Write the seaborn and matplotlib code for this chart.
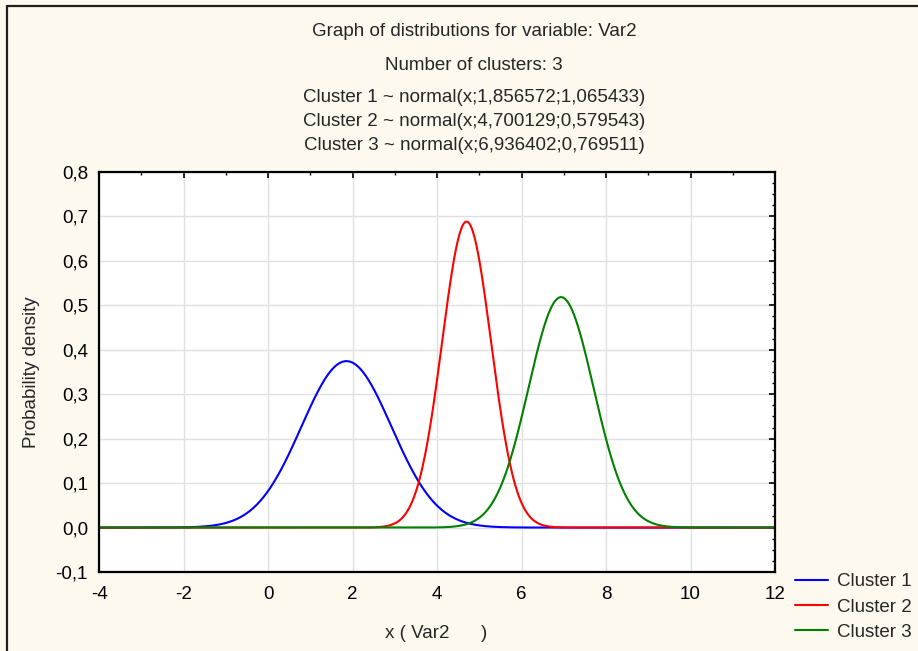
import numpy as np
import pandas as pd
import matplotlib
matplotlib.use("Agg")
import matplotlib.pyplot as plt
import matplotlib.ticker as mtick
from matplotlib.lines import Line2D
import seaborn as sns

# data (parameters shown in the chart title)
clusters = ["Cluster 1", "Cluster 2", "Cluster 3"]
means = [1.856572, 4.700129, 6.936402]
sds = [1.065433, 0.579543, 0.769511]
colors = ["#0000FF", "#FF0000", "#008000"]
x_grid = np.linspace(-4, 12, 801)

title_lines = [
    "Graph of distributions for variable: Var2",
    "Number of clusters: 3",
    "Cluster 1 ~ normal(x;1,856572;1,065433)",
    "Cluster 2 ~ normal(x;4,700129;0,579543)",
    "Cluster 3 ~ normal(x;6,936402;0,769511)",
]

rows = []
for name, m, s in zip(clusters, means, sds):
    dens = np.exp(-0.5 * ((x_grid - m) / s) ** 2) / (s * np.sqrt(2 * np.pi))
    rows.append(pd.DataFrame({"x": x_grid, "density": dens, "cluster": name}))
df = pd.concat(rows, ignore_index=True)

sns.set_style("white")
plt.rcParams["font.family"] = ["Liberation Sans", "DejaVu Sans"]
fs = 13.5

bg = "#FEF9EE"
fig = plt.figure(figsize=(9.18, 6.51), dpi=100, facecolor=bg)
ax = fig.add_axes([99 / 918, 1 - 572 / 651, 676 / 918, 400 / 651])
ax.set_facecolor("white")

sns.lineplot(data=df, x="x", y="density", hue="cluster", palette=colors,
             hue_order=clusters, ax=ax, linewidth=1.5, legend=False)

ax.set_xlim(-4, 12)
ax.set_ylim(-0.1, 0.8)
ax.set_xticks(np.arange(-4, 13, 2))
ax.set_yticks(np.arange(-0.1, 0.81, 0.1))
ax.xaxis.set_minor_locator(mtick.MultipleLocator(1))
ax.yaxis.set_minor_locator(mtick.MultipleLocator(0.025))
ax.xaxis.set_major_formatter(mtick.FuncFormatter(lambda v, p: f"{v:.0f}"))
ax.yaxis.set_major_formatter(mtick.FuncFormatter(lambda v, p: f"{v:.1f}".replace(".", ",").replace("-0,0", "0,0")))
ax.tick_params(which="both", direction="in", top=True, right=True, labelsize=fs, colors="black")
ax.tick_params(which="major", length=4, width=1.2)
ax.tick_params(which="minor", length=2, width=1)
ax.tick_params(axis="x", pad=10)
ax.tick_params(axis="y", pad=8)
ax.grid(True, which="major", color="#E0E0E0", linewidth=1)
for sp in ax.spines.values():
    sp.set_color("black")
    sp.set_linewidth(1.6)

ax.set_xlabel("")
ax.set_ylabel("")
fig.text(436 / 918, 1 - 634 / 651, "x ( Var2      )", ha="center", va="center", fontsize=fs)
fig.text(32 / 918, 1 - 372 / 651, "Probability density", ha="center", va="center",
         rotation=90, fontsize=fs)

for txt, yp in zip(title_lines, [32, 66, 97, 121, 145]):
    fig.text(474 / 918, 1 - yp / 651, txt, ha="center", va="center", fontsize=fs)

handles = [Line2D([0], [0], color=c, lw=1.5) for c in colors]
fig.legend(handles, clusters, loc="upper left", bbox_to_anchor=(795 / 918, 1 - 573 / 651),
           frameon=False, fontsize=fs, handlelength=1.76, handletextpad=0.5,
           labelspacing=0.44, borderaxespad=0, borderpad=0)

# outer frame on left and top
fig.add_artist(Line2D([7 / 918, 7 / 918], [0, 1 - 6 / 651], color="#202020", lw=1.6,
                      transform=fig.transFigure))
fig.add_artist(Line2D([7 / 918, 1], [1 - 6 / 651, 1 - 6 / 651], color="#202020", lw=1.6,
                      transform=fig.transFigure))

fig.savefig("out.png", dpi=100, facecolor=bg)
